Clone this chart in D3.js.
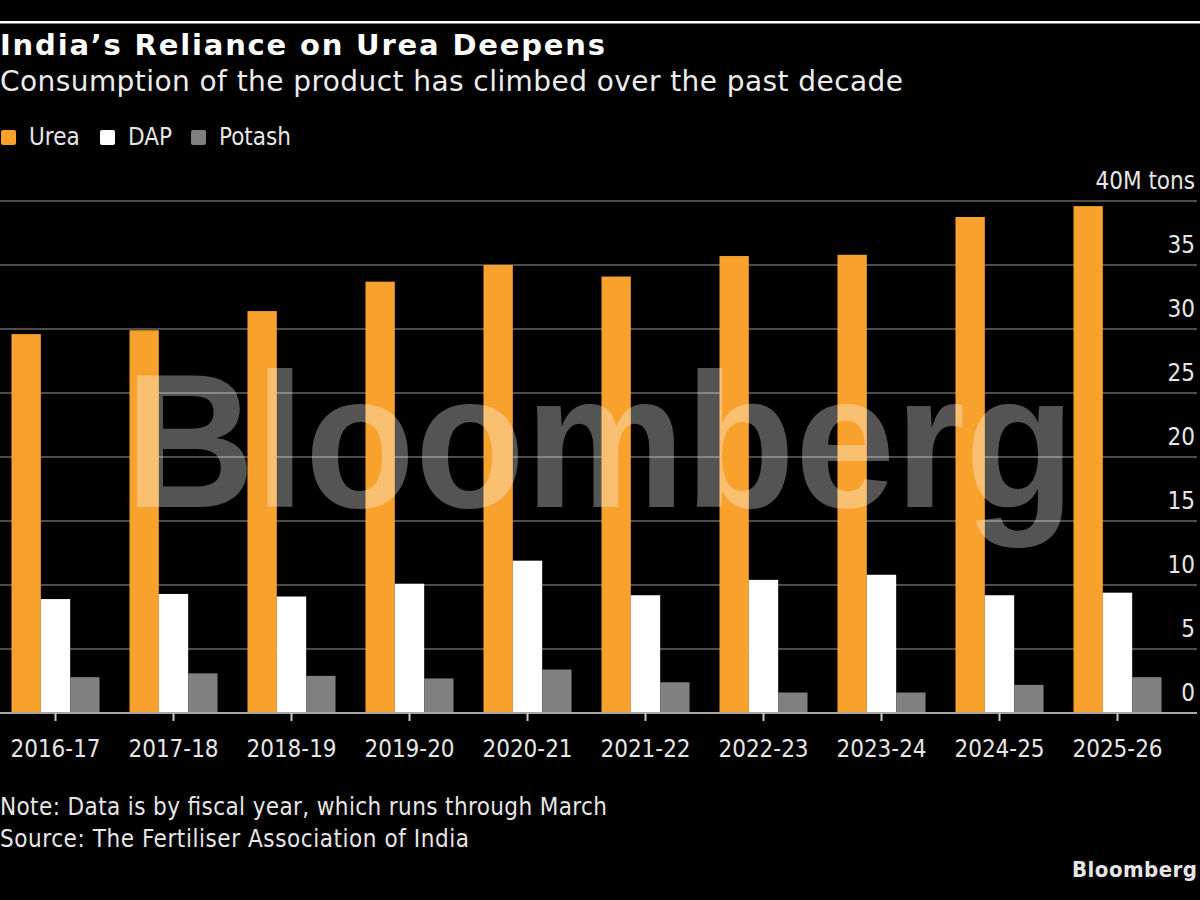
<!DOCTYPE html>
<html>
<head>
<meta charset="utf-8">
<script src="https://cdn.jsdelivr.net/npm/d3@7"></script>
<style>
  html, body { margin: 0; padding: 0; background: #000; }
  svg { display: block; }
  text { font-family: "DejaVu Sans Condensed", "DejaVu Sans", sans-serif; }
</style>
</head>
<body>
<svg width="1200" height="900"></svg>
<script>
const years = ['2016-17', '2017-18', '2018-19', '2019-20', '2020-21', '2021-22', '2022-23', '2023-24', '2024-25', '2025-26']
const urea = [29.6, 29.9, 31.4, 33.7, 35.0, 34.1, 35.7, 35.8, 38.75, 39.6]
const dap = [8.9, 9.3, 9.1, 10.1, 11.9, 9.2, 10.4, 10.8, 9.2, 9.4]
const potash = [2.8, 3.1, 2.9, 2.7, 3.4, 2.4, 1.6, 1.6, 2.2, 2.8]
const seriesNames = ['Urea', 'DAP', 'Potash']
const seriesColors = ['#f8a12c', '#ffffff', '#808080']
const yTicks = [0, 5, 10, 15, 20, 25, 30, 35, 40]

const svg = d3.select('svg')
const width = +svg.attr('width')

const data = years.map((yr, i) => ({ year: yr, values: [urea[i], dap[i], potash[i]] }))

// top rule
svg.append('rect').attr('x', 0).attr('y', 21).attr('width', width).attr('height', 2.5).attr('fill', '#fff')

svg.append('text').attr('x', 0).attr('y', 55)
    .style('font-family', '"DejaVu Sans", sans-serif')
    .attr('fill', '#fff').attr('font-size', 29).attr('font-weight', 'bold')
    .attr('textLength', 605).attr('lengthAdjust', 'spacing')
    .text('India\u2019s Reliance on Urea Deepens')
svg.append('text').attr('x', 0).attr('y', 91)
    .style('font-family', '"DejaVu Sans", sans-serif')
    .attr('fill', '#ececec').attr('font-size', 28)
    .attr('textLength', 903).attr('lengthAdjust', 'spacing')
    .text('Consumption of the product has climbed over the past decade')

// legend
const legendX = [1, 100, 191]
const legend = svg.selectAll('.legend').data(seriesNames)
    .enter().append('g')
    .attr('transform', (d, i) => `translate(${legendX[i]}, 130)`)
legend.append('rect').attr('width', 15).attr('height', 15).attr('rx', 2)
    .attr('fill', (d, i) => seriesColors[i])
legend.append('text').attr('x', 28).attr('y', 15)
    .attr('fill', '#e6e6e6').attr('font-size', 24)
    .text(d => d)

const yScale = d3.scaleLinear().domain([0, 40]).range([713, 201])

const xScale = d3.scaleBand()
    .domain(years)
    .range([-3.5, 1176.5])
    .paddingInner(0.254)
    .paddingOuter(0.127)

const xInner = d3.scaleBand()
    .domain(seriesNames)
    .range([0, xScale.bandwidth()])

// gridlines
svg.append('g').selectAll('line').data(yTicks.filter(d => d > 0))
    .enter().append('line')
    .attr('x1', 0).attr('x2', 1197)
    .attr('y1', d => yScale(d)).attr('y2', d => yScale(d))
    .attr('stroke', '#4d4d4d').attr('stroke-width', 2)

// bars
const groups = svg.append('g').selectAll('g').data(data)
    .enter().append('g')
    .attr('transform', d => `translate(${xScale(d.year)}, 0)`)
groups.selectAll('rect').data(d => d.values.map((v, i) => ({ key: seriesNames[i], value: v, i })))
    .enter().append('rect')
    .attr('x', d => xInner(d.key))
    .attr('y', d => yScale(d.value))
    .attr('width', xInner.bandwidth())
    .attr('height', d => yScale(0) - yScale(d.value))
    .attr('fill', d => seriesColors[d.i])

// watermark
svg.append('text').attr('x', 125).attr('y', 507)
    .style('font-family', '"Liberation Sans", Arial, sans-serif')
    .attr('font-weight', 'bold').attr('font-size', 192)
    .attr('textLength', 950).attr('lengthAdjust', 'spacingAndGlyphs')
    .attr('fill', '#fff').attr('fill-opacity', 0.33)
    .text('Bloomberg')

// baseline
svg.append('line').attr('x1', 0).attr('x2', 1197)
    .attr('y1', yScale(0)).attr('y2', yScale(0))
    .attr('stroke', '#a6a6a6').attr('stroke-width', 2)

// x axis
const xAxis = svg.append('g')
    .attr('transform', `translate(0, ${yScale(0)})`)
    .call(d3.axisBottom(xScale).tickSize(8).tickPadding(19))
xAxis.select('.domain').remove()
xAxis.selectAll('line').attr('stroke', '#c8c8c8').attr('stroke-width', 2)
xAxis.selectAll('text').attr('fill', '#e6e6e6').attr('font-size', 24)
    .style('font-family', '"DejaVu Sans Condensed", "DejaVu Sans", sans-serif')

// y axis labels (right side, above gridlines)
const yAxis = svg.append('g')
    .attr('transform', 'translate(1195, 0)')
    .call(d3.axisLeft(yScale).tickValues(yTicks).tickSize(0).tickPadding(0)
        .tickFormat(d => d === 40 ? '40M tons' : d))
yAxis.select('.domain').remove()
yAxis.selectAll('text').attr('fill', '#e6e6e6').attr('font-size', 24)
    .attr('dy', -13)
    .style('font-family', '"DejaVu Sans Condensed", "DejaVu Sans", sans-serif')

// footnotes
svg.append('text').attr('x', 0).attr('y', 815)
    .attr('fill', '#e6e6e6').attr('font-size', 24)
    .attr('textLength', 607).attr('lengthAdjust', 'spacing')
    .text('Note: Data is by fiscal year, which runs through March')
svg.append('text').attr('x', 0).attr('y', 847)
    .attr('fill', '#e6e6e6').attr('font-size', 24)
    .attr('textLength', 469).attr('lengthAdjust', 'spacing')
    .text('Source: The Fertiliser Association of India')
svg.append('text').attr('x', 1072).attr('y', 877)
    .attr('fill', '#e6e6e6').attr('font-size', 22).attr('font-weight', 'bold')
    .attr('textLength', 125).attr('lengthAdjust', 'spacing')
    .text('Bloomberg')
</script>
</body>
</html>
